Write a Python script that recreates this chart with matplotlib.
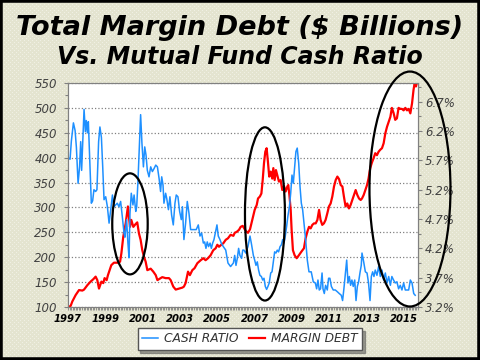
import numpy as np
import matplotlib.pyplot as plt
from matplotlib.patches import Ellipse, Rectangle
from matplotlib.ticker import FixedLocator

# Mutual fund cash ratio (%)
cash_years = [1997.00, 1997.11, 1997.18, 1997.29, 1997.38, 1997.45, 1997.54, 1997.62, 1997.68, 1997.73,
              1997.79, 1997.86, 1997.93, 1997.98, 1998.04, 1998.09, 1998.16, 1998.25, 1998.32, 1998.39,
              1998.48, 1998.55, 1998.64, 1998.71, 1998.79, 1998.86, 1998.93, 1999.02, 1999.11, 1999.20,
              1999.29, 1999.38, 1999.46, 1999.55, 1999.64, 1999.73, 1999.82, 1999.91,
              2000.00, 2000.05, 2000.14, 2000.21, 2000.27, 2000.32, 2000.39, 2000.48, 2000.54, 2000.63,
              2000.68, 2000.75, 2000.82, 2000.89, 2000.96, 2001.04, 2001.11, 2001.18, 2001.25, 2001.34,
              2001.43, 2001.52, 2001.61, 2001.70, 2001.79, 2001.88, 2001.96, 2002.02, 2002.09, 2002.14,
              2002.23, 2002.29, 2002.38, 2002.46, 2002.55, 2002.64, 2002.73, 2002.80, 2002.89, 2002.98,
              2003.07, 2003.13,
              2003.21, 2003.30, 2003.39, 2003.48, 2003.57, 2003.75, 2003.87, 2003.98, 2004.07, 2004.16,
              2004.25, 2004.32, 2004.39, 2004.46, 2004.53, 2004.61, 2004.68, 2004.75, 2004.82, 2004.91,
              2004.98, 2005.05, 2005.14, 2005.21, 2005.32, 2005.45, 2005.57, 2005.71, 2005.86, 2005.93,
              2006.00, 2006.07, 2006.14, 2006.21, 2006.30, 2006.36,
              2006.43, 2006.52, 2006.64, 2006.75, 2006.82, 2006.93, 2007.00, 2007.07, 2007.14, 2007.21,
              2007.28, 2007.36, 2007.43, 2007.50, 2007.57, 2007.64, 2007.71, 2007.78, 2007.86, 2007.93,
              2008.00, 2008.07, 2008.14, 2008.21, 2008.28, 2008.36, 2008.43, 2008.50, 2008.57, 2008.64,
              2008.71, 2008.78, 2008.86, 2008.93, 2009.00, 2009.07, 2009.14, 2009.21, 2009.28, 2009.36,
              2009.43, 2009.50, 2009.57,
              2009.64, 2009.73, 2009.82, 2009.91, 2010.03, 2010.14, 2010.25, 2010.32, 2010.39, 2010.46,
              2010.53, 2010.61, 2010.66, 2010.73, 2010.80, 2010.89, 2010.96, 2011.03, 2011.11, 2011.21,
              2011.32, 2011.43, 2011.53, 2011.64, 2011.71, 2011.78, 2011.86, 2011.93, 2012.00, 2012.07,
              2012.14, 2012.21, 2012.28, 2012.36, 2012.43, 2012.50, 2012.57, 2012.64, 2012.71,
              2012.75, 2012.84, 2012.93, 2013.02, 2013.10, 2013.18, 2013.25, 2013.32, 2013.39, 2013.46,
              2013.55, 2013.64, 2013.73, 2013.82, 2013.91, 2014.00, 2014.09, 2014.18, 2014.27, 2014.35,
              2014.44, 2014.53, 2014.62, 2014.71, 2014.80, 2014.89, 2014.98, 2015.07, 2015.16, 2015.25,
              2015.34, 2015.43, 2015.52, 2015.60]
cash_ratio = [5.75, 5.72, 6.03, 6.34, 6.21, 5.92, 5.31, 5.59, 6.02, 5.53,
              6.00, 6.57, 6.19, 6.38, 6.17, 6.36, 5.76, 4.97, 5.01, 5.20,
              5.17, 5.20, 6.02, 6.27, 6.09, 5.59, 5.03, 5.08, 4.91, 4.63,
              4.86, 5.11, 4.91, 4.94, 4.97, 4.91, 5.00, 4.74,
              4.46, 4.39, 4.69, 4.29, 4.04, 4.80, 5.14, 4.94, 5.11, 4.83,
              4.91, 5.36, 5.93, 6.48, 6.00, 5.59, 5.93, 5.79, 5.53, 5.42,
              5.59, 5.51, 5.56, 5.62, 5.59, 5.39, 5.17, 5.42, 5.28, 4.97,
              5.14, 5.05, 4.86, 5.08, 4.77, 4.60, 4.97, 5.11, 5.08, 4.83,
              4.69, 4.91,
              4.35, 4.63, 5.00, 4.80, 4.52, 4.52, 4.52, 4.60, 4.41, 4.46,
              4.29, 4.31, 4.20, 4.31, 4.23, 4.29, 4.20, 4.29, 4.35, 4.49,
              4.60, 4.41, 4.35, 4.29, 4.23, 4.17, 3.95, 3.89, 3.95, 4.08,
              3.91, 4.03, 4.20, 4.08, 4.03, 4.17,
              4.17, 4.12, 4.23, 4.41, 4.29, 4.08, 4.00, 3.91, 3.97, 3.83,
              3.74, 3.72, 3.66, 3.69, 3.55, 3.50, 3.55, 3.61, 3.78, 3.80,
              3.97, 4.14, 4.12, 4.17, 4.14, 4.23, 4.26, 4.35, 4.29, 4.41,
              4.57, 4.75, 4.91, 5.14, 5.45, 5.31, 5.59, 5.85, 5.91, 5.65,
              5.25, 4.97, 4.86,
              4.63, 4.35, 4.00, 3.80, 3.80, 3.63, 3.61, 3.51, 3.66, 3.49,
              3.51, 3.78, 3.51, 3.43, 3.57, 3.49, 3.69, 3.69, 3.55, 3.49,
              3.49, 3.46, 3.43, 3.40, 3.31, 3.51, 3.78, 4.00, 3.61, 3.72,
              3.57, 3.66, 3.55, 3.66, 3.31, 3.55, 3.63, 3.78, 3.91,
              4.12, 3.97, 3.80, 3.78, 3.61, 3.31, 3.72, 3.80, 3.72, 3.83,
              3.74, 3.89, 3.72, 3.83, 3.66, 3.78, 3.61, 3.72, 3.57, 3.72,
              3.66, 3.61, 3.63, 3.51, 3.57, 3.49, 3.61, 3.49, 3.49, 3.49,
              3.66, 3.61, 3.43, 3.40]

# Total margin debt ($ billions)
debt_years = [1997.00, 1997.14, 1997.23, 1997.41, 1997.59, 1997.77, 1997.86, 1998.04, 1998.21, 1998.36,
              1998.48, 1998.57, 1998.66, 1998.79, 1998.89, 1998.96, 1999.07, 1999.14, 1999.23, 1999.32,
              1999.46, 1999.64, 1999.79, 1999.86, 1999.96,
              2000.09, 2000.21, 2000.32, 2000.39, 2000.50, 2000.63, 2000.71, 2000.80, 2000.89, 2000.98,
              2001.07, 2001.16, 2001.25, 2001.43, 2001.57, 2001.70, 2001.79, 2001.96, 2002.05, 2002.23,
              2002.41, 2002.50, 2002.64, 2002.77, 2002.95, 2003.13,
              2003.21, 2003.30, 2003.43, 2003.53, 2003.66, 2003.78, 2003.93, 2004.11, 2004.25, 2004.37,
              2004.50, 2004.64, 2004.78, 2004.91, 2005.00, 2005.09, 2005.21, 2005.32, 2005.45, 2005.57,
              2005.71, 2005.86, 2005.93, 2006.04, 2006.16, 2006.25, 2006.36,
              2006.52, 2006.64, 2006.75, 2006.87, 2007.00, 2007.11, 2007.18, 2007.28, 2007.36, 2007.43,
              2007.50, 2007.57, 2007.64, 2007.71, 2007.78, 2007.86, 2007.94, 2008.00, 2008.07, 2008.14,
              2008.21, 2008.30, 2008.39, 2008.48, 2008.57, 2008.66, 2008.75, 2008.80, 2008.86, 2008.93,
              2008.98, 2009.05, 2009.14, 2009.25, 2009.37, 2009.50,
              2009.64, 2009.73, 2009.82, 2009.91, 2010.00, 2010.09, 2010.18, 2010.27, 2010.36, 2010.45,
              2010.53, 2010.62, 2010.71, 2010.80, 2010.89, 2010.98, 2011.07, 2011.16, 2011.25, 2011.34,
              2011.43, 2011.52, 2011.61, 2011.70, 2011.78, 2011.87, 2011.96, 2012.05, 2012.14, 2012.23,
              2012.32, 2012.41, 2012.50, 2012.59, 2012.68,
              2012.75, 2012.84, 2012.93, 2013.02, 2013.10, 2013.19, 2013.28, 2013.37, 2013.46, 2013.55,
              2013.64, 2013.73, 2013.82, 2013.91, 2014.00, 2014.09, 2014.18, 2014.27, 2014.35, 2014.44,
              2014.53, 2014.62, 2014.71, 2014.80, 2014.89, 2014.98, 2015.07, 2015.16, 2015.25, 2015.34,
              2015.43, 2015.51, 2015.57, 2015.64, 2015.69]
margin_debt = [100, 102, 111, 124, 134, 133, 135, 144, 151, 156,
               161, 154, 137, 151, 148, 158, 154, 164, 174, 184,
               189, 189, 191, 208, 241,
               268, 302, 261, 275, 261, 267, 270, 248, 235, 214,
               201, 191, 174, 177, 171, 164, 154, 158, 160, 158,
               158, 154, 141, 135, 137, 139,
               141, 148, 171, 164, 174, 178, 188, 194, 198, 194,
               198, 204, 214, 218, 225, 221, 225, 228, 235, 238,
               245, 243, 249, 251, 255, 261, 263,
               253, 249, 256, 275, 295, 305, 318, 322, 328, 355,
               389, 412, 419, 392, 362, 372, 358, 379, 355, 375,
               365, 352, 355, 335, 343, 332, 342, 345, 325, 295,
               255, 214, 204, 198, 204, 211,
               218, 238, 251, 261, 258, 265, 268, 268, 275, 295,
               275, 265, 268, 275, 288, 302, 308, 322, 342, 355,
               362, 357, 345, 342, 322, 302, 308, 298, 305, 315,
               325, 335, 325, 318, 315,
               318, 325, 335, 345, 358, 379, 390, 399, 409, 405,
               412, 416, 419, 429, 449, 462, 472, 482, 500, 490,
               476, 479, 500, 498, 498, 495, 500, 495, 498, 489,
               509, 536, 550, 543, 550]

year_labels = list(range(1997, 2016, 2))
debt_ticks = list(range(100, 551, 50))
cash_ticks = [3.2, 3.7, 4.2, 4.7, 5.2, 5.7, 6.2, 6.7]

fig = plt.figure(figsize=(4.8, 3.6), dpi=100)
fig.patch.set_facecolor('#E4E4D0')
# faint dotted paper texture behind everything
bg = np.ones((360, 480, 3)) * np.array([0xE4, 0xE4, 0xD0]) / 255
bg[::4, ::4] = np.array([0xF0, 0xF0, 0xE4]) / 255
bg[2::4, 2::4] = np.array([0xF0, 0xF0, 0xE4]) / 255
fig.figimage(bg, 0, 0, zorder=-10)
fig.patches.append(Rectangle((0, 0), 1, 1, transform=fig.transFigure, fill=False,
                             edgecolor='black', linewidth=4, zorder=10))

ax = fig.add_axes([68/480, 53/360, 350/480, 224/360])
ax.set_facecolor('white')
ax2 = ax.twinx()

l_debt, = ax.plot(debt_years, margin_debt, color='#FF0000', lw=1.6, label='MARGIN DEBT')
l_cash, = ax2.plot(cash_years, cash_ratio, color='#1E90FF', lw=1.1, label='CASH RATIO')

ax.set_xlim(1997, 2015.75)
ax.set_ylim(100, 550)
ax2.set_ylim(3.2, 7.02)

ax.set_yticks(debt_ticks)
ax.yaxis.set_minor_locator(FixedLocator(np.arange(100, 551, 25)))
ax.set_yticklabels([str(v) for v in debt_ticks], style='italic', fontsize=8.5, color='#404040')
ax2.set_yticks(cash_ticks)
ax2.yaxis.set_minor_locator(FixedLocator(np.arange(3.2, 7.02, 0.25)))
ax2.set_yticklabels(['%.1f%%' % v for v in cash_ticks], style='italic', fontsize=8.5, color='#404040')

ax.set_xticks(year_labels)
ax.xaxis.set_minor_locator(FixedLocator(np.arange(1997, 2015.76, 1/12)))
ax.set_xticklabels([str(y) for y in year_labels], style='italic', weight='bold', fontsize=7.2)

ax.tick_params(axis='y', which='major', length=3, width=0.8, color='#808080', pad=5)
ax.tick_params(axis='y', which='minor', length=2, width=0.8, color='#808080')
ax2.tick_params(axis='y', which='major', length=3, width=0.8, color='#808080', pad=2)
ax2.tick_params(axis='y', which='minor', length=2, width=0.8, color='#808080')
ax.tick_params(axis='x', which='both', length=2.5, width=0.6, color='#808080', pad=2.5)

ax.yaxis.grid(True, linestyle=':', color='#808080', linewidth=0.9)
ax.set_axisbelow(True)
for a in (ax, ax2):
    for s in a.spines.values():
        s.set_color('#808080')

# highlight ellipses
for cx, cy, w, h in [(2000.32, 267, 1.9, 203), (2007.55, 287, 2.14, 348), (2015.32, 337, 4.34, 472)]:
    e = Ellipse((cx, cy), w, h, transform=ax.transData, fill=False, edgecolor='black',
                linewidth=1.6, clip_on=False, zorder=5)
    ax2.add_patch(e)

fig.text(0.5, 1 - 35/360, 'Total Margin Debt ($ Billions)', ha='center', va='baseline',
         fontsize=19.5, weight='bold', style='italic')
fig.text(0.5, 1 - 64.5/360, 'Vs. Mutual Fund Cash Ratio', ha='center', va='baseline',
         fontsize=17, weight='bold', style='italic')

leg = fig.legend([l_cash, l_debt], ['CASH RATIO', 'MARGIN DEBT'], loc='center',
                 bbox_to_anchor=(250/480, 1 - 339/360), ncol=2, fancybox=False, shadow=True,
                 handlelength=1.3, handletextpad=0.5, columnspacing=0.9, borderpad=0.35,
                 framealpha=1, prop={'style': 'italic', 'size': 8.8})
leg.get_frame().set_edgecolor('#555555')
for t in leg.get_texts():
    t.set_color('#333333')

fig.savefig('out.png', dpi=100, facecolor=fig.get_facecolor())
